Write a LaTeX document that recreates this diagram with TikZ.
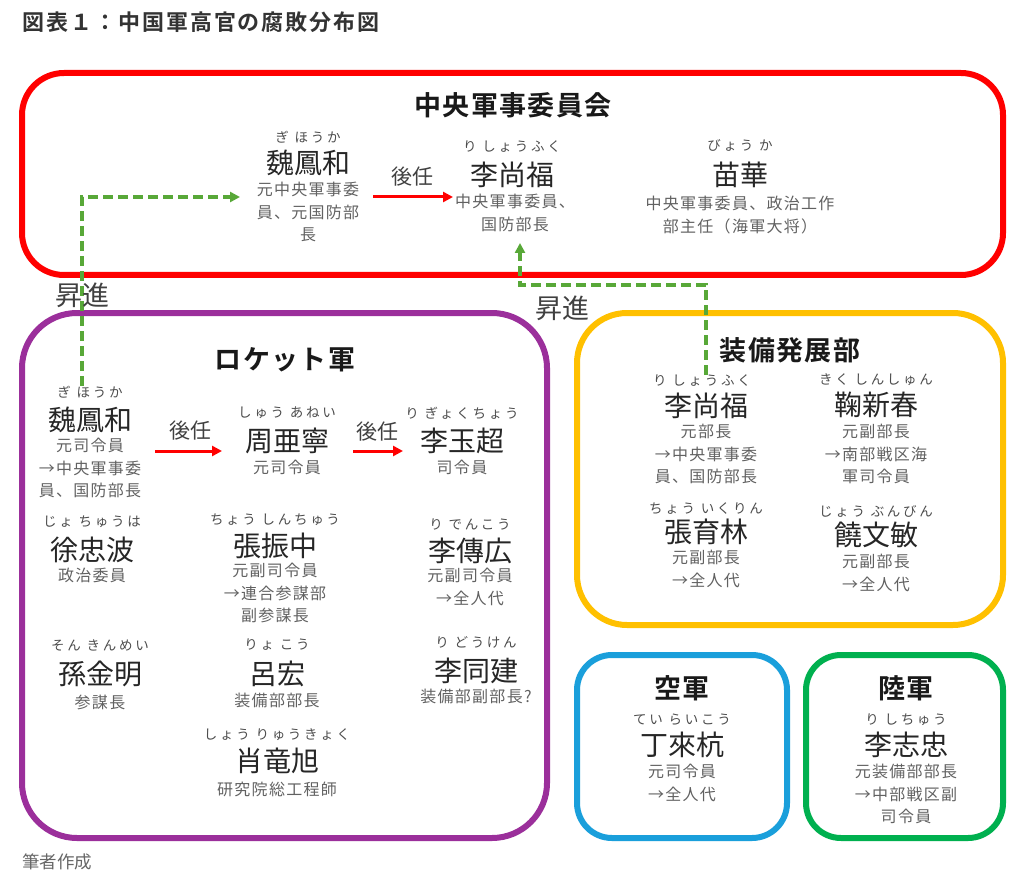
\documentclass[tikz,border=0pt]{standalone}
\usepackage{fontspec}
\setmainfont{Noto Sans CJK JP}[BoldFont={Noto Sans CJK JP Bold}]
\newfontfamily\rubyfont{Noto Sans CJK JP}[LetterSpace=20]
\newfontfamily\postfont{Noto Sans CJK JP}[LetterSpace=8]
\newfontfamily\headfont{Noto Sans CJK JP Bold}[LetterSpace=5]
\newfontfamily\titlefont{Noto Sans CJK JP Bold}[LetterSpace=9]
\usetikzlibrary{arrows.meta}
\definecolor{cmcred}{HTML}{FF0000}
\definecolor{rocketpurple}{HTML}{9B2F9B}
\definecolor{equipyellow}{HTML}{FFC000}
\definecolor{airblue}{HTML}{1A9FDB}
\definecolor{armygreen}{HTML}{00B04F}
\definecolor{promogreen}{HTML}{58A838}
\begin{document}
\begin{tikzpicture}[x=1pt, y=-1pt, >={Triangle[length=10pt,width=10pt]},
person/.style={font=\fontsize{28}{30}\selectfont, text=black!85, inner sep=0pt},
ruby/.style={font=\rubyfont\fontsize{13.5}{15}\selectfont, text=black!70, inner sep=0pt},
post/.style={font=\postfont\fontsize{16}{22.5}\selectfont, text=black!62, align=center, inner sep=0pt, anchor=north},
head/.style={font=\headfont\fontsize{27}{30}\selectfont, text=black!90, inner sep=0pt},
box/.style={line width=6pt, rounded corners=42pt},
succ/.style={->, draw=cmcred, line width=3pt},
promo/.style={->, draw=promogreen, line width=3.4pt, dash pattern=on 10pt off 5pt},
tag/.style={inner sep=0pt, text=black!75}]
\useasboundingbox (0,0) rectangle (1024,882);
% frames
\draw[box, draw=cmcred] (22,73) rectangle (1003,275);
\draw[box, draw=rocketpurple, rounded corners=55pt] (22,313) rectangle (547,838);
\draw[box, draw=equipyellow, rounded corners=50pt] (577,313) rectangle (1003,625);
\draw[box, draw=airblue, rounded corners=35pt] (577,655) rectangle (787,838);
\draw[box, draw=armygreen, rounded corners=35pt] (806,655) rectangle (1003,838);
\node[anchor=west, inner sep=0pt, font=\titlefont\fontsize{22}{26}\selectfont, text=black!80] (title) at (22,22) {図表１：中国軍高官の腐敗分布図};
\node[anchor=west, inner sep=0pt, font=\fontsize{17.5}{20}\selectfont, text=black!60] (source) at (22,862) {筆者作成};
% central military commission
\node[head] (h1) at (513,105) {中央軍事委員会};
\node[ruby] (c1r) at (308,137) {ぎ ほうか};
\node[person] (c1) at (308,163) {魏鳳和};
\node[post] (c1d) at (308,182) {元中央軍事委\\員、元国防部\\長};
\node[ruby] (c2r) at (512,147) {り しょうふく};
\node[person] (c2) at (512,175) {李尚福};
\node[post] (c2d) at (515,194) {中央軍事委員、\\国防部長};
\node[ruby] (c3r) at (740,145) {びょう か};
\node[person] (c3) at (740,175) {苗華};
\node[post] (c3d) at (740,196) {中央軍事委員、政治工作\\部主任（海軍大将）};
% rocket force
\node[head] (h2) at (285,360) {ロケット軍};
\node[ruby] (r1r) at (90,392) {ぎ ほうか};
\node[person] (r1) at (90,420) {魏鳳和};
\node[post] (r1d) at (90,438) {元司令員\\→中央軍事委\\員、国防部長};
\node[ruby] (r2r) at (287,413) {しゅう あねい};
\node[person] (r2) at (287,441) {周亜寧};
\node[post] (r2d) at (287,460) {元司令員};
\node[ruby] (r3r) at (462,413) {り ぎょくちょう};
\node[person] (r3) at (462,441) {李玉超};
\node[post] (r3d) at (462,460) {司令員};
\node[ruby] (r4r) at (92,522) {じょ ちゅうは};
\node[person] (r4) at (92,550) {徐忠波};
\node[post] (r4d) at (92,568) {政治委員};
\node[ruby] (r5r) at (275,520) {ちょう しんちゅう};
\node[person] (r5) at (275,546) {張振中};
\node[post] (r5d) at (275,563) {元副司令員\\→連合参謀部\\副参謀長};
\node[ruby] (r6r) at (470,524) {り でんこう};
\node[person] (r6) at (470,551) {李傳広};
\node[post] (r6d) at (470,568) {元副司令員\\→全人代};
\node[ruby] (r7r) at (100,645) {そん きんめい};
\node[person] (r7) at (100,674) {孫金明};
\node[post] (r7d) at (100,695) {参謀長};
\node[ruby] (r8r) at (277,645) {りょ こう};
\node[person] (r8) at (277,674) {呂宏};
\node[post] (r8d) at (277,693) {装備部部長};
\node[ruby] (r9r) at (476,642) {り どうけん};
\node[person] (r9) at (476,671) {李同建};
\node[post] (r9d) at (476,689) {装備部副部長?};
\node[ruby] (r10r) at (277,735) {しょう りゅうきょく};
\node[person] (r10) at (277,761) {肖竜旭};
\node[post] (r10d) at (277,782) {研究院総工程師};
% equipment development department
\node[head] (h3) at (790,350) {装備発展部};
\node[ruby] (e1r) at (702,381) {り しょうふく};
\node[person] (e1) at (706,406) {李尚福};
\node[post] (e1d) at (706,424) {元部長\\→中央軍事委\\員、国防部長};
\node[ruby] (e2r) at (876,380) {きく しんしゅん};
\node[person] (e2) at (876,405) {鞠新春};
\node[post] (e2d) at (876,424) {元副部長\\→南部戦区海\\軍司令員};
\node[ruby] (e3r) at (706,509) {ちょう いくりん};
\node[person] (e3) at (706,532) {張育林};
\node[post] (e3d) at (706,550) {元副部長\\→全人代};
\node[ruby] (e4r) at (876,511) {じょう ぶんびん};
\node[person] (e4) at (876,535) {饒文敏};
\node[post] (e4d) at (876,554) {元副部長\\→全人代};
% air force
\node[head] (h4) at (682,688) {空軍};
\node[ruby] (a1r) at (682,720) {てい らいこう};
\node[person] (a1) at (682,745) {丁來杭};
\node[post] (a1d) at (682,764) {元司令員\\→全人代};
% ground force
\node[head] (h5) at (906,688) {陸軍};
\node[ruby] (g1r) at (906,720) {り しちゅう};
\node[person] (g1) at (906,745) {李志忠};
\node[post] (g1d) at (906,764) {元装備部部長\\→中部戦区副\\司令員};
% successions
\coordinate (s1a) at (373,197);
\coordinate (s1b) at (453,197);
\coordinate (s2a) at (155,451);
\coordinate (s2b) at (222,451);
\coordinate (s3a) at (353,451);
\coordinate (s3b) at (403,451);
\draw[succ] (s1a) -- (s1b);
\draw[succ] (s2a) -- (s2b);
\draw[succ] (s3a) -- (s3b);
\node[tag, font=\fontsize{21}{22}\selectfont] (t1) at (412,177) {後任};
\node[tag, font=\fontsize{21}{22}\selectfont] (t2) at (190,431) {後任};
\node[tag, font=\fontsize{21}{22}\selectfont] (t3) at (377,432) {後任};
% promotions
\coordinate (p1) at (240,197);
\coordinate (p2) at (520,243);
\draw[promo] ([xshift=-8pt]r1r.north) |- (p1);
\draw[promo] ([xshift=4pt]e1r.north) -- ++(0,-90) -| (p2);
\node[tag, font=\fontsize{27}{28}\selectfont] (u1) at (82,295) {昇進};
\node[tag, font=\fontsize{27}{28}\selectfont] (u2) at (562,308) {昇進};
\end{tikzpicture}
\end{document}
